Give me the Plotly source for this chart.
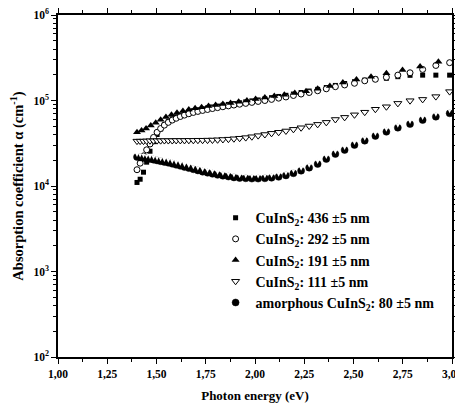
import plotly.graph_objects as go

# Photon energies (eV) of the measurement grids
energy_a = [1.401, 1.417, 1.434, 1.450, 1.467, 1.485, 1.503, 1.521, 1.540, 1.560,
            1.580, 1.600, 1.621, 1.642, 1.664, 1.687, 1.710, 1.734, 1.759, 1.784,
            1.810, 1.837, 1.865, 1.893, 1.922, 1.953, 1.984, 2.016, 2.050, 2.084,
            2.120, 2.157, 2.195, 2.234, 2.275, 2.318, 2.362, 2.408, 2.455, 2.505,
            2.557, 2.611, 2.667, 2.725, 2.787, 2.851, 2.918, 2.988]
energy_b = [1.401, 1.424, 1.447, 1.471, 1.496, 1.521, 1.548, 1.576, 1.604, 1.634,
            1.664, 1.696, 1.729, 1.764, 1.800, 1.837, 1.876, 1.917, 1.959, 2.003,
            2.050, 2.098, 2.149, 2.202, 2.259, 2.318, 2.380, 2.446, 2.515, 2.589,
            2.667, 2.749, 2.838, 2.931]

alpha_436 = [11000, 12000, 14500, 19000, 25500, 33000, 40000, 46500, 52000, 57000,
             61000, 64500, 67500, 70500, 73500, 76000, 78000, 80000, 82000, 84000,
             86000, 88000, 90000, 92000, 94000, 96500, 99000, 101500, 104500, 108000,
             111500, 115000, 119000, 124000, 129000, 135000, 142000, 150000, 158000, 166000,
             173000, 178000, 182000, 190000, 197000, 198000, 198000, 198000]
alpha_292 = [15500, 18500, 22500, 26500, 31000, 37000, 42500, 47000, 51500, 55500,
             59000, 62000, 65000, 67500, 70000, 72500, 74500, 76500, 78500, 80500,
             82500, 84500, 86500, 88500, 90500, 92500, 95000, 97500, 100000, 103000,
             106500, 110000, 114500, 119000, 124000, 130000, 137000, 145000, 152000, 159000,
             170000, 177000, 187000, 198000, 211000, 231000, 257000, 277000]
alpha_191 = [42500, 44500, 47000, 51000, 55000, 59500, 64000, 68000, 72000, 75500,
             78500, 81000, 83500, 86000, 88500, 91000, 93500, 96500, 100000, 104000,
             108500, 113000, 117000, 122000, 128000, 137000, 148000, 162000, 176000, 190000,
             208000, 227000, 249000, 284000]
alpha_111 = [33500, 33500, 33500, 33700, 33800, 33800, 33900, 33900, 34000, 34000,
             34000, 34100, 34100, 34100, 34200, 34200, 34300, 34300, 34400, 34500,
             34700, 35000, 35300, 35700, 36200, 36800, 37700, 38800, 40000, 41300,
             42500, 44000, 46000, 48000, 50300, 52600, 55500, 60000, 63500, 68000,
             73000, 79000, 84500, 92500, 99500, 103000, 111000, 127000]
alpha_amorph = [21900, 21600, 21300, 21000, 20700, 20300, 19900, 19500, 19100, 18700,
                18200, 17700, 17200, 16700, 16200, 15700, 15200, 14700, 14300, 13900,
                13500, 13200, 12900, 12600, 12400, 12300, 12200, 12200, 12300, 12500,
                12800, 13300, 14100, 15100, 16400, 18100, 20700, 23700, 26400, 30200,
                33900, 38500, 43100, 48100, 53000, 59100, 64700, 70800]

x_tickvals = [1.0, 1.25, 1.5, 1.75, 2.0, 2.25, 2.5, 2.75, 3.0]
x_ticktext = ["1,00", "1,25", "1,50", "1,75", "2,00", "2,25", "2,50", "2,75", "3,00"]
y_tickvals = [1e2, 1e3, 1e4, 1e5, 1e6]
y_ticktext = ["10<sup>2</sup>", "10<sup>3</sup>", "10<sup>4</sup>", "10<sup>5</sup>", "10<sup>6</sup>"]

names = ["CuInS<sub>2</sub>: 436 ±5 nm", "CuInS<sub>2</sub>: 292 ±5 nm",
         "CuInS<sub>2</sub>: 191 ±5 nm", "CuInS<sub>2</sub>: 111 ±5 nm",
         "amorphous CuInS<sub>2</sub>: 80 ±5 nm"]

FONT = "Liberation Serif"
fig = go.Figure()

fig.add_trace(go.Scatter(x=energy_a, y=alpha_436, mode="markers", name=names[0],
                         marker=dict(symbol="square", size=5, color="black")))
fig.add_trace(go.Scatter(x=energy_a, y=alpha_292, mode="markers", name=names[1],
                         marker=dict(symbol="circle", size=6, color="white",
                                     line=dict(color="black", width=1))))
fig.add_trace(go.Scatter(x=energy_b, y=alpha_191, mode="markers", name=names[2],
                         marker=dict(symbol="triangle-up", size=7, color="black")))
fig.add_trace(go.Scatter(x=energy_a, y=alpha_111, mode="markers", name=names[3],
                         marker=dict(symbol="triangle-down", size=7, color="white",
                                     line=dict(color="black", width=1))))
# amorphous: dark circle with a light top cap (two stacked markers)
fig.add_trace(go.Scatter(x=energy_a, y=alpha_amorph, mode="markers", name=names[4],
                         legendgroup="amorph",
                         marker=dict(symbol="circle", size=7, color="black",
                                     line=dict(color="black", width=0.5))))
fig.add_trace(go.Scatter(x=energy_a, y=alpha_amorph, mode="markers", name=names[4],
                         legendgroup="amorph", showlegend=False, hoverinfo="skip",
                         marker=dict(symbol="arrow-down", size=4.0, color="white",
                                     line=dict(width=0))))

axis_common = dict(showline=True, linecolor="black", linewidth=1.5, mirror="allticks",
                   ticks="outside", tickcolor="black", ticklen=5, tickwidth=1,
                   showgrid=False, zeroline=False, automargin=False,
                   ticklabeloverflow="allow",
                   tickfont=dict(family=FONT, size=11.5, color="black"))

fig.update_xaxes(range=[1.0, 3.0], tickvals=x_tickvals, ticktext=x_ticktext,
                 minor=dict(ticks="outside", ticklen=3, tickcolor="black", dtick=0.125),
                 title=dict(text="<b>Photon energy (eV)</b>",
                            font=dict(family=FONT, size=13, color="black"), standoff=12),
                 **axis_common)
fig.update_yaxes(type="log", range=[2, 6], tickvals=y_tickvals, ticktext=y_ticktext,
                 minor=dict(ticks="outside", ticklen=3, tickcolor="black", dtick="D1"),
                 title=dict(text="<b>Absorption coefficient α (cm<sup>-1</sup>)</b>",
                            font=dict(family=FONT, size=14.5, color="black"), standoff=8),
                 **axis_common)

# the page body adds an 8px margin, so the figure is sized to fit the window exactly
fig.update_layout(
    width=455, height=397,
    margin=dict(l=50, r=11, t=7, b=48),
    paper_bgcolor="white", plot_bgcolor="white",
    font=dict(family=FONT, size=11, color="black", weight="bold"),
    legend=dict(x=0.40, y=0.453, xanchor="left", yanchor="top",
                bgcolor="rgba(0,0,0,0)", borderwidth=0,
                font=dict(family=FONT, size=14, color="black", weight="bold"),
                itemsizing="trace", tracegroupgap=0),
)

fig.write_html("out.html")
